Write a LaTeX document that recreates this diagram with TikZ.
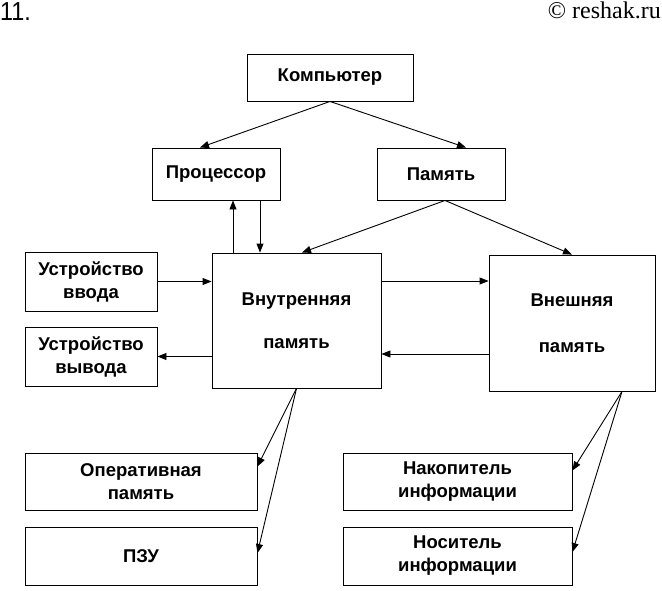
\documentclass[tikz,border=0pt]{standalone}
\usepackage{fontspec}
\setmainfont{Liberation Sans}
\newfontfamily\serifhead{Liberation Serif}
\usetikzlibrary{arrows.meta,calc}
\begin{document}
\begin{tikzpicture}[x=1pt,y=-1pt,
  box/.style={draw,line width=0.9pt,inner sep=0pt,align=center,font=\bfseries\fontsize{18.5}{23}\selectfont},
  arr/.style={line width=0.9pt,-{Triangle[length=9pt,width=7pt]}}]
\useasboundingbox (0,0) rectangle (662,590);
\node[anchor=north west,inner sep=0pt,xscale=0.9,font=\fontsize{26}{28}\selectfont] (num) at (0,2) {11.};
\node[anchor=north east,inner sep=0pt,font=\serifhead\fontsize{24}{26}\selectfont] (copy) at (661,2) {© reshak.ru};
\node[box,minimum width=166pt,minimum height=47pt] (komp) at (330,77.5) {Компьютер};
\node[box,minimum width=128pt,minimum height=52pt] (proc) at (216,174) {Процессор};
\node[box,minimum width=128pt,minimum height=52pt] (pam) at (441,174) {Память};
\node[box,minimum width=132pt,minimum height=59pt] (vvod) at (91,281.5) {Устройство\\ввода};
\node[box,minimum width=132pt,minimum height=59pt] (vyvod) at (91,356.5) {Устройство\\вывода};
\node[box,minimum width=169pt,minimum height=135pt] (vnutr) at (296.5,320.5) {Внутренняя\\[20pt]память};
\node[box,minimum width=166pt,minimum height=136pt] (vnesh) at (572,323) {Внешняя\\[23pt]память};
\node[box,minimum width=232pt,minimum height=57pt] (oper) at (141,481.5) {Оперативная\\память};
\node[box,minimum width=232pt,minimum height=58pt] (pzu) at (141,556) {ПЗУ};
\node[box,minimum width=229pt,minimum height=57pt] (nakop) at (457.5,481.5) {Накопитель\\информации};
\node[box,minimum width=229pt,minimum height=58pt] (nosit) at (457.5,556) {Носитель\\информации};
% connectors
\draw[arr] (komp.south) -- ([xshift=-16pt]proc.north);
\draw[arr] (komp.south) -- ([xshift=25pt]pam.north);
\draw[arr] ([xshift=17pt]proc.south |- vnutr.north) -- ([xshift=17pt]proc.south);
\draw[arr] ([xshift=44pt]proc.south) -- ([xshift=44pt]proc.south |- vnutr.north);
\draw[arr] ([xshift=4pt]pam.south) -- ([xshift=5.5pt]vnutr.north);
\draw[arr] ([xshift=4pt]pam.south) -- (vnesh.north);
\draw[arr] (vvod.east) -- (vvod.east -| vnutr.west);
\draw[arr] (vyvod.east -| vnutr.west) -- (vyvod.east);
\draw[arr] ([yshift=39.5pt]vnutr.east) -- ([yshift=39.5pt]vnutr.east -| vnesh.west);
\draw[arr] ([yshift=-33.5pt]vnutr.east -| vnesh.west) -- ([yshift=-33.5pt]vnutr.east);
\draw[arr] (vnutr.south) -- ([yshift=15pt]oper.east);
\draw[arr] (vnutr.south) -- ([yshift=3pt]pzu.east);
\draw[arr] ([xshift=50pt]vnesh.south) -- ([yshift=11pt]nakop.east);
\draw[arr] ([xshift=50pt]vnesh.south) -- ([yshift=4pt]nosit.east);
\end{tikzpicture}
\end{document}
